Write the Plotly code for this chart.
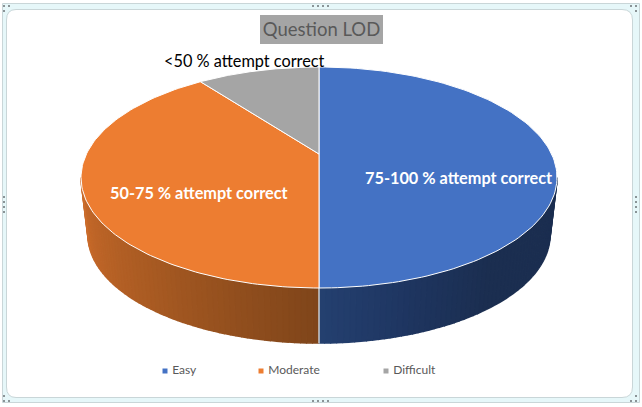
import math
import plotly.graph_objects as go

# ---- data ----
categories = ["Easy", "Moderate", "Difficult"]
values = [50.0, 41.7, 8.3]
slice_labels = ["75-100 % attempt correct", "50-75 % attempt correct", "<50 % attempt correct"]
title_text = "Question LOD"
top_colors = ["#4472C4", "#ED7D31", "#A5A5A5"]
wall_stops = [
    [(0.0, (0x24, 0x40, 0x70)), (0.25, (0x1E, 0x35, 0x60)), (0.5, (0x1B, 0x2E, 0x50)), (1.0, (0x1B, 0x2E, 0x50))],
    [(0.0, (0x7F, 0x45, 0x1A)), (0.5, (0xA8, 0x5A, 0x22)), (1.0, (0xCC, 0x6C, 0x2B))],
]

W, H = 642, 407
CX, TOP_CY, RX, RY = 319.0, 177.5, 238.0, 110.5
APEX_Y = 154.0
BOT_CY, BOT_RX, BOT_RY = 235.0, 231.0, 108.0
STRIPS = 60


def top_pt(a):
    return CX + RX * math.sin(a), TOP_CY - RY * math.cos(a)


def bot_pt(a):
    return CX + BOT_RX * math.sin(a), BOT_CY - BOT_RY * math.cos(a)


def mix(stops, t):
    for (t0, c0), (t1, c1) in zip(stops, stops[1:]):
        if t <= t1:
            f = (t - t0) / (t1 - t0) if t1 > t0 else 0
            return "rgb(%d,%d,%d)" % tuple(round(p + (q - p) * f) for p, q in zip(c0, c1))
    return "rgb(%d,%d,%d)" % stops[-1][1]


total = sum(values)
bounds = [0.0]
for v in values:
    bounds.append(bounds[-1] + v / total * 2 * math.pi)

fig = go.Figure()
common = dict(mode="lines", fill="toself", hoverinfo="skip", showlegend=False)

# side wall: only the front half of the disc is visible
for i, stops in enumerate(wall_stops):
    for s in range(STRIPS):
        if i == 0:
            # blue: right-hand tangent round to the front seam
            b0 = math.pi / 2 + (math.pi / 2) * s / STRIPS
            b1 = math.pi / 2 + (math.pi / 2) * (s + 1) / STRIPS
            t = 1 - (s + 0.5) / STRIPS
        else:
            # orange: front seam round to the left-hand tangent
            b0 = math.pi + (math.pi / 2) * s / STRIPS
            b1 = math.pi + (math.pi / 2) * (s + 1) / STRIPS
            t = (s + 0.5) / STRIPS
        pts = [top_pt(b0), top_pt(b1), bot_pt(b1), bot_pt(b0)]
        col = mix(stops, t)
        fig.add_trace(go.Scatter(x=[p[0] for p in pts], y=[p[1] for p in pts],
                                 fillcolor=col, line=dict(color=col, width=1.6), **common))

# seam between the two visible wall colours
sx0, sy0 = top_pt(math.pi)
sx1, sy1 = bot_pt(math.pi)
fig.add_trace(go.Scatter(x=[sx0, sx1], y=[sy0, sy1 + 0.5], mode="lines", hoverinfo="skip",
                         showlegend=False, line=dict(color="#C8CCD2", width=1.5)))

# top face
for i, col in enumerate(top_colors):
    n = 120
    arc = [top_pt(bounds[i] + (bounds[i + 1] - bounds[i]) * k / n) for k in range(n + 1)]
    pts = [(CX, APEX_Y)] + arc + [(CX, APEX_Y)]
    fig.add_trace(go.Scatter(x=[p[0] for p in pts], y=[p[1] for p in pts],
                             fillcolor=col, line=dict(color="#FFFFFF", width=1), **common))

# legend drawn as markers with text
legend_x = [165, 261, 386]
legend_y = [371, 371, 371]
fig.add_trace(go.Scatter(
    x=legend_x, y=legend_y, mode="markers+text", text=[" " + c for c in categories],
    textposition="middle right", hoverinfo="skip", showlegend=False,
    textfont=dict(family="Lato", size=12, color="#595959"),
    marker=dict(symbol="square", size=5, color=top_colors),
))

label_xy = [(458, 177), (199, 192), (244, 60)]
label_colors = ["#FFFFFF", "#FFFFFF", "#000000"]
annotations = []
for (lx, ly), text, col, i in zip(label_xy, slice_labels, label_colors, range(3)):
    annotations.append(dict(x=lx, y=ly, xref="x", yref="y", text=("<b>%s</b>" % text) if i < 2 else text,
                            showarrow=False, xanchor="center", yanchor="middle",
                            font=dict(family="Lato", size=16.3, color=col)))

# selection frame of the chart object
frame = "#C9D6D8"
band = "#E6F7F9"
shapes = [
    dict(type="rect", x0=2.5, y0=3.5, x1=639.5, y1=402.5, line=dict(color=frame, width=1), fillcolor=band, layer="below"),
    dict(type="path",
         path="M 16 9.5 L 622 9.5 Q 632.5 9.5 632.5 20 L 632.5 387 Q 632.5 397.5 622 397.5 "
              "L 16 397.5 Q 6.5 397.5 6.5 387 L 6.5 20 Q 6.5 9.5 16 9.5 Z",
         line=dict(color=frame, width=1), fillcolor="#FFFFFF", layer="below"),
    dict(type="rect", x0=260, y0=15, x1=383, y1=44, fillcolor="#A5A5A5", line=dict(width=0), layer="below"),
]


def dot(x, y):
    return dict(type="rect", x0=x, y0=y, x1=x + 2, y1=y + 2, fillcolor="#8A9396", line=dict(width=0))


for k in range(4):
    shapes.append(dot(312 + k * 5, 5))
    shapes.append(dot(312 + k * 5, 400))
    shapes.append(dot(3, 196 + k * 5))
    shapes.append(dot(635, 196 + k * 5))
for x, y in [(3, 5), (8, 5), (3, 10), (630, 5), (635, 5), (635, 10), (3, 395), (3, 400), (8, 400), (630, 400), (635, 400), (635, 395)]:
    shapes.append(dot(x, y))

fig.update_layout(
    width=W, height=H, margin=dict(l=0, r=0, t=0, b=0, pad=0),
    paper_bgcolor="#FFFFFF", plot_bgcolor="rgba(0,0,0,0)", showlegend=False,
    title=dict(text=title_text, x=321.5 / W, xanchor="center", y=1 - 30 / H, yanchor="middle",
               font=dict(family="Lato", size=18.5, color="#595959")),
    xaxis=dict(range=[0, W], visible=False, fixedrange=True),
    yaxis=dict(range=[H, 0], visible=False, fixedrange=True),
    shapes=shapes, annotations=annotations,
)
fig.write_html("out.html", config={"displayModeBar": False},
               post_script="document.body.style.margin='0';document.body.style.overflow='hidden';")
